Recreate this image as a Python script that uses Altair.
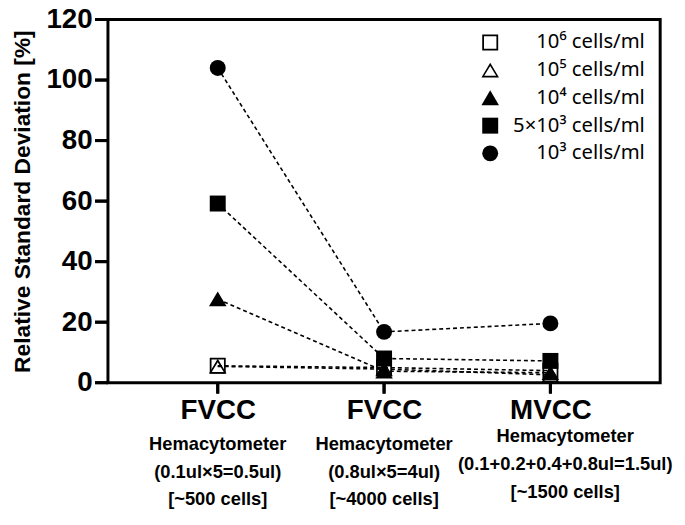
import altair as alt
import pandas as pd

methods = ["FVCC (0.5ul)", "FVCC (4ul)", "MVCC (1.5ul)"]
method_titles = ["FVCC", "FVCC", "MVCC"]
method_subtitles = [
    "Hemacytometer\n(0.1ul×5=0.5ul)\n[~500 cells]",
    "Hemacytometer\n(0.8ul×5=4ul)\n[~4000 cells]",
    "Hemacytometer\n(0.1+0.2+0.4+0.8ul=1.5ul)\n[~1500 cells]",
]
y_ticks = [0, 20, 40, 60, 80, 100, 120]
series = ["10⁶ cells/ml", "10⁵ cells/ml", "10⁴ cells/ml", "5×10³ cells/ml", "10³ cells/ml"]

# marker outlines (unit-square symbol paths): hollow square, hollow triangle, filled triangle
HOLLOW_SQUARE = "M-1,-1L1,-1L1,1L-1,1Z M-0.78,-0.78L-0.78,0.78L0.78,0.78L0.78,-0.78Z"
HOLLOW_TRIANGLE = "M0,-0.95L1.1,0.9L-1.1,0.9Z M0,-0.53L-0.75,0.7L0.75,0.7Z"
FILLED_TRIANGLE = "M0,-0.95L1.1,0.9L-1.1,0.9Z"
series_shapes = [HOLLOW_SQUARE, HOLLOW_TRIANGLE, FILLED_TRIANGLE, "square", "circle"]
# axis tick glyphs
H_TICK = "M-1,-0.23L1,-0.23L1,0.23L-1,0.23Z"
V_TICK = "M-0.28,-1L0.28,-1L0.28,1L-0.28,1Z"

rsd_1e6 = [5.6, 5.0, 4.0]
rsd_1e5 = [5.4, 4.5, 2.6]
rsd_1e4 = [27.6, 3.8, 3.3]
rsd_5e3 = [59.2, 8.0, 7.2]
rsd_1e3 = [104.0, 16.8, 19.6]

values = [rsd_1e6, rsd_1e5, rsd_1e4, rsd_5e3, rsd_1e3]
rows = []
for s, vals in zip(series, values):
    for m, v in zip(methods, vals):
        rows.append({"method": m, "series": s, "rsd": v})
df = pd.DataFrame(rows)
labels_df = pd.DataFrame({"method": methods, "sub": method_subtitles})
yticks_df = pd.DataFrame({"rsd": y_ticks})

W, H = 558, 367
label_map = "{" + ", ".join(f"'{m}': '{t}'" for m, t in zip(methods, method_titles)) + "}"

x_scale = alt.Scale(type="point", domain=methods, padding=0.66)
y_scale = alt.Scale(domain=[0, 120], nice=False, zero=True)

x_enc = alt.X(
    "method:N",
    sort=methods,
    scale=x_scale,
    axis=alt.Axis(
        title=None,
        labelExpr=f"{label_map}[datum.value]",
        labelFontSize=28,
        labelPadding=14,
        labelAngle=0,
        ticks=False,
        domain=False,
    ),
)
y_enc = alt.Y(
    "rsd:Q",
    scale=y_scale,
    axis=alt.Axis(
        title="Relative Standard Deviation [%]",
        values=y_ticks,
        labelFontSize=28,
        labelPadding=16,
        ticks=False,
        domain=False,
    ),
)

legend = alt.Legend(
    title=None,
    orient="none",
    legendX=376,
    legendY=13,
    padding=0,
    labelFont="Noto Sans",
    labelFontSize=20.5,
    labelColor="black",
    labelAlign="right",
    labelOffset=146,
    symbolSize=260,
    symbolFillColor="black",
    symbolStrokeWidth=0,
    rowPadding=7,
)

lines = alt.Chart(df).mark_line(
    color="black", strokeDash=[4, 3], strokeWidth=1.6, clip=False
).encode(x=x_enc, y=y_enc, detail="series:N")

points = alt.Chart(df).mark_point(
    size=260, opacity=1, filled=True, color="black", clip=False
).encode(
    x=x_enc,
    y=y_enc,
    shape=alt.Shape(
        "series:N",
        sort=series,
        scale=alt.Scale(domain=series, range=series_shapes),
        legend=legend,
    ),
)

# axis tick marks outside the frame (rules, with matching filled glyphs underneath)
ytick_rules = alt.Chart(yticks_df).mark_rule(
    color="black", strokeWidth=3, clip=False
).encode(y=alt.Y("rsd:Q", scale=y_scale), x=alt.value(-13), x2=alt.value(0))

ytick_glyphs = alt.Chart(yticks_df).mark_point(
    shape=H_TICK, size=169, filled=True, color="black", opacity=1, clip=False
).encode(y=alt.Y("rsd:Q", scale=y_scale), x=alt.value(-6.5))

xtick_rules = alt.Chart(labels_df).mark_rule(
    color="black", strokeWidth=3, clip=False
).encode(x=alt.X("method:N", sort=methods, scale=x_scale), y=alt.value(H), y2=alt.value(H + 11))

xtick_glyphs = alt.Chart(labels_df).mark_point(
    shape=V_TICK, size=121, filled=True, color="black", opacity=1, clip=False
).encode(x=alt.X("method:N", sort=methods, scale=x_scale), y=alt.value(H + 5.5))

sub_style = dict(
    font="Liberation Sans",
    fontWeight="bold",
    fontSize=18.5,
    lineHeight=28,
    baseline="top",
    align="center",
    color="black",
    lineBreak="\n",
    clip=False,
)

subs_fvcc = alt.Chart(labels_df).transform_filter(
    alt.datum.method != methods[2]
).mark_text(**sub_style).encode(
    x=alt.X("method:N", sort=methods, scale=x_scale),
    y=alt.value(H + 53),
    text="sub:N",
)

subs_mvcc = alt.Chart(labels_df).transform_filter(
    alt.datum.method == methods[2]
).mark_text(dx=15, dy=-8, **sub_style).encode(
    x=alt.X("method:N", sort=methods, scale=x_scale),
    y=alt.value(H + 53),
    text="sub:N",
)

chart = (
    alt.layer(
        lines, points, ytick_glyphs, xtick_glyphs, ytick_rules, xtick_rules,
        subs_fvcc, subs_mvcc,
    )
    .properties(
        width=W,
        height=H,
        autosize=alt.AutoSizeParams(type="none"),
        padding={"left": 101, "top": 9, "right": 17, "bottom": 128},
    )
    .configure_axis(
        grid=False,
        labelFont="Liberation Sans",
        labelFontWeight="bold",
        labelColor="black",
        titleFont="Liberation Sans",
        titleFontWeight="bold",
        titleFontSize=23,
        titleColor="black",
        titlePadding=12,
    )
    .configure_view(stroke="black", strokeWidth=3, clip=False)
)

chart.save("out.html", embed_options={"renderer": "svg", "actions": False})
